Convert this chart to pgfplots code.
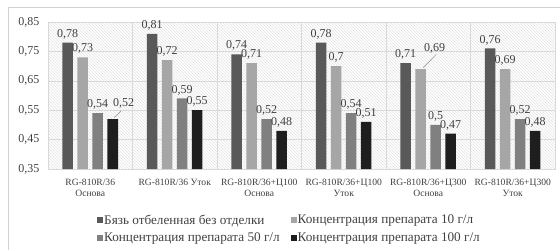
\documentclass[border=0pt]{standalone}
\usepackage{fontspec}
\setmainfont{Liberation Serif}
\usepackage{pgfplots}
\usepackage{pgfplotstable}
\pgfplotsset{compat=1.18}
\usetikzlibrary{patterns}
\definecolor{cA}{HTML}{595959}
\definecolor{cB}{HTML}{A6A6A6}
\definecolor{cC}{HTML}{808080}
\definecolor{cD}{HTML}{1E1E1E}
\definecolor{txt}{HTML}{404040}

\pgfplotstableread{
x y dx dy
0 0.78 0 0
1 0.81 0 0
2 0.74 0 0
3 0.78 0 0
4 0.71 0 0
5 0.76 0 0
}\serA
\pgfplotstableread{
x y dx dy
0 0.73 0 0
1 0.72 0 0
2 0.71 0 0
3 0.70 0 0
4 0.69 14 12
5 0.69 0 0
}\serB
\pgfplotstableread{
x y dx dy
0 0.54 0 0
1 0.59 0 0
2 0.52 0 0
3 0.54 0 0
4 0.50 0 0
5 0.52 0 0
}\serC
\pgfplotstableread{
x y dx dy
0 0.52 11 7
1 0.55 0 0
2 0.48 0 0
3 0.51 0 0
4 0.47 0 0
5 0.48 0 0
}\serD

\begin{document}
\begin{tikzpicture}
\path[use as bounding box] (0,0) rectangle (560pt,250pt);
\begin{axis}[
  at={(48pt,81pt)}, anchor=south west,
  width=507pt, height=147pt, scale only axis,
  xmin=-0.5, xmax=5.5, ymin=0.35, ymax=0.85,
  ybar=4.5pt, bar width=10.5pt,
  ytick={0.35,0.45,0.55,0.65,0.75,0.85},
  xtick={0,1,2,3,4,5},
  minor xtick={0.5,1.5,2.5,3.5,4.5},
  xticklabels={RG-810R/36,RG-810R/36 Уток,RG-810R/36+Ц100,RG-810R/36+Ц100,RG-810R/36+Ц300,RG-810R/36+Ц300},
  extra x ticks={0,2,3,4,5},
  extra x tick labels={Основа,Основа,Уток,Основа,Уток},
  extra x tick style={xticklabel style={yshift=-11.5pt}, major tick length=0pt},
  xticklabel style={anchor=north, font=\fontsize{9.6}{11}\selectfont, text=txt, yshift=-5.5pt, text height=7pt, text depth=2pt},
  yticklabel style={font=\fontsize{12}{14}\selectfont, text=txt, xshift=-5pt,
    /pgf/number format/fixed, /pgf/number format/fixed zerofill, /pgf/number format/precision=2},
  major tick length=0pt, minor tick length=0pt,
  ymajorgrids=true, xminorgrids=true,
  grid style={black!15, line width=0.6pt},
  minor grid style={black!15, line width=0.6pt},
  axis line style={black!15},
  axis background/.style={preaction={fill=white}, pattern=north west lines, pattern color=black!10},
  /pgf/number format/use comma,
  /pgf/number format/assume math mode=true,
  nodes near coords,
  visualization depends on={\thisrow{dx} \as \dx},
  visualization depends on={\thisrow{dy} \as \dy},
  every node near coord/.append style={font=\fontsize{12}{14}\selectfont, text=txt, xshift=\dx, yshift=\dy},
  legend style={at={(0.0966,-0.295)}, anchor=north west, draw=none, fill=none, inner sep=0pt,
    font=\fontsize{13.2}{15}\selectfont, text=txt,
    legend columns=2, /tikz/every even column/.append style={column sep=10pt},
    row sep=3pt, nodes={inner xsep=1pt}},
  legend cell align=left,
  legend image code/.code={\fill[#1] (0pt,-3pt) rectangle (6pt,3pt);},
]
\addplot[fill=cA, draw=none] table[x=x,y=y] {\serA};
\addplot[fill=cB, draw=none] table[x=x,y=y] {\serB};
\addplot[fill=cC, draw=none] table[x=x,y=y] {\serC};
\addplot[fill=cD, draw=none] table[x=x,y=y] {\serD};
\legend{Бязь отбеленная без отделки, Концентрация препарата 10 г/л, Концентрация препарата 50 г/л, Концентрация препарата 100 г/л}
\draw[black!45, line width=0.5pt] ([xshift=24pt]axis cs:0,0.525) -- ([xshift=31pt]axis cs:0,0.548);
\draw[black!45, line width=0.5pt] ([xshift=-5pt]axis cs:4,0.695) -- ([xshift=8pt]axis cs:4,0.74);
\end{axis}
\draw[black!18, line width=0.8pt] (8pt,0pt) -- (8pt,243pt) -- (560pt,243pt);
\end{tikzpicture}
\end{document}
